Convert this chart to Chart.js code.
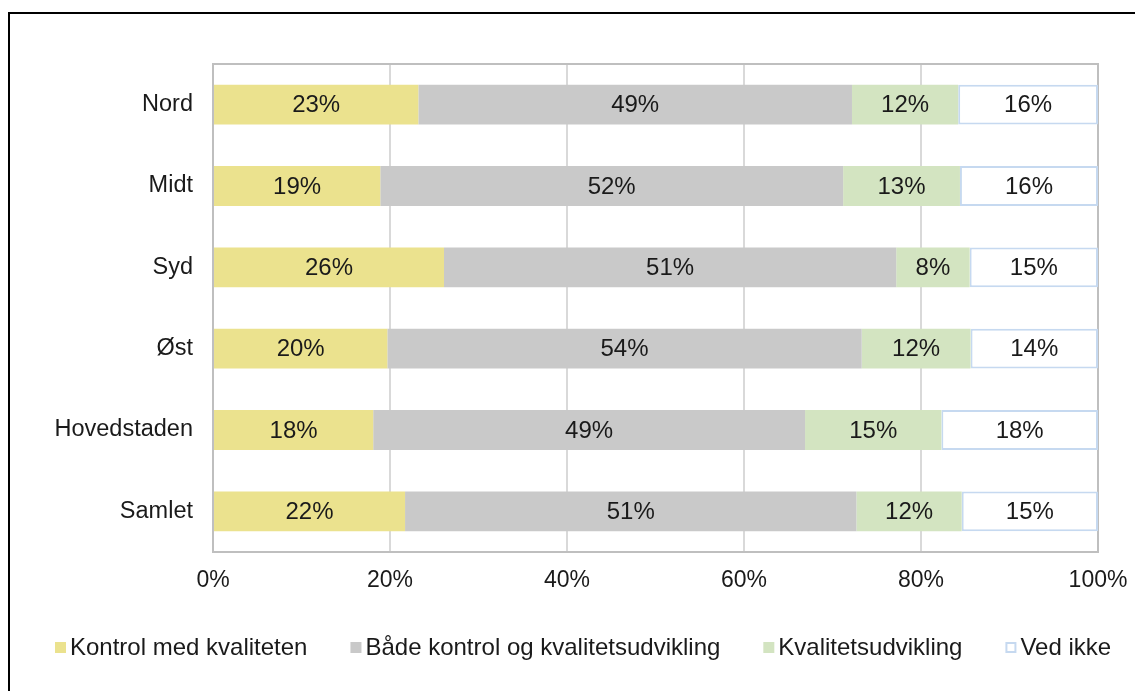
<!DOCTYPE html>
<html>
<head>
<meta charset="utf-8">
<script src="https://cdn.jsdelivr.net/npm/chart.js@4"></script>
<style>
  html, body { margin: 0; padding: 0; background: #fff; }
  #wrap { position: relative; width: 1135px; height: 691px; overflow: hidden; }
  #frame { position: absolute; left: 8px; top: 12px; width: 1200px; height: 750px; border: 2px solid #000; box-sizing: border-box; }
  canvas { position: absolute; left: 0; top: 0; }
</style>
</head>
<body>
<div id="wrap">
  <div id="frame"></div>
  <canvas id="chart" width="1135" height="691"></canvas>
</div>
<script>
const regions = ["Nord", "Midt", "Syd", "Øst", "Hovedstaden", "Samlet"];
const seriesNames = ["Kontrol med kvaliteten", "Både kontrol og kvalitetsudvikling", "Kvalitetsudvikling", "Ved ikke"];
const kontrol = [23.2, 18.9, 26.1, 19.7, 18.1, 21.7];
const begge = [49.0, 52.3, 51.1, 53.6, 48.8, 51.0];
const udvikling = [12.0, 13.2, 8.3, 12.3, 15.4, 11.9];
const vedIkke = [15.8, 15.6, 14.5, 14.4, 17.7, 15.4];
const xTicks = [0, 20, 40, 60, 80, 100];

const fills = ["#ebe28e", "#c9c9c9", "#d3e4c1", "#ffffff"];
const edges = ["#ebe28e", "#c9c9c9", "#d3e4c1", "#c6d9f0"];
const font = "'Liberation Sans', Arial, sans-serif";

/* plot frame */
const framePlugin = {
    id: "frame",
    beforeDatasetsDraw(chart) {
        const a = chart.chartArea;
        const ctx = chart.ctx;
        ctx.save();
        ctx.strokeStyle = "#bfbfbf";
        ctx.lineWidth = 2;
        ctx.strokeRect(a.left, a.top, a.right - a.left, a.bottom - a.top);
        ctx.restore();
    }
};

/* percent labels in the bars */
const labelPlugin = {
    id: "barLabels",
    afterDatasetsDraw(chart) {
        const ctx = chart.ctx;
        ctx.save();
        ctx.font = "24px " + font;
        ctx.fillStyle = "#1a1a1a";
        ctx.textAlign = "center";
        ctx.textBaseline = "middle";
        chart.data.datasets.forEach((ds, i) => {
            chart.getDatasetMeta(i).data.forEach((bar, j) => {
                const p = bar.getCenterPoint();
                ctx.fillText(Math.round(ds.data[j]) + "%", p.x, p.y + 1);
            });
        });
        ctx.restore();
    }
};

/* legend row under the axis, Excel style: small box close to the text */
const legendPlugin = {
    id: "rowLegend",
    afterDraw(chart) {
        const ctx = chart.ctx;
        const y = 647;
        let x = 55;
        ctx.save();
        ctx.font = "24px " + font;
        ctx.textBaseline = "middle";
        ctx.textAlign = "left";
        chart.data.datasets.forEach((ds, i) => {
            if (i === 3) {
                ctx.fillStyle = "#fff";
                ctx.fillRect(x, y - 5, 11, 11);
                ctx.strokeStyle = edges[i];
                ctx.lineWidth = 2;
                ctx.strokeRect(x + 1, y - 4, 9, 9);
            } else {
                ctx.fillStyle = fills[i];
                ctx.fillRect(x, y - 5, 11, 11);
            }
            ctx.fillStyle = "#1a1a1a";
            ctx.fillText(ds.label, x + 15, y + 1);
            x += 15 + ctx.measureText(ds.label).width + 43;
        });
        ctx.restore();
    }
};

const values = [kontrol, begge, udvikling, vedIkke];

new Chart(document.getElementById("chart"), {
    type: "bar",
    data: {
        labels: regions,
        datasets: seriesNames.map((name, i) => ({
            label: name,
            data: values[i],
            backgroundColor: fills[i],
            borderColor: edges[i],
            borderWidth: i === 3 ? 2 : 0,
            borderSkipped: false,
            categoryPercentage: 1,
            barPercentage: 0.49
        }))
    },
    options: {
        indexAxis: "y",
        responsive: false,
        animation: false,
        layout: { padding: { top: 64, left: 20, right: 37, bottom: 94 } },
        scales: {
            x: {
                stacked: true,
                min: 0,
                max: 100,
                afterBuildTicks: s => { s.ticks = xTicks.map(v => ({ value: v })); },
                afterFit: s => { s.height = 45; s.paddingLeft = 0; s.paddingRight = 0; },
                grid: { color: "#d9d9d9", lineWidth: 2, drawTicks: false },
                border: { display: false },
                ticks: {
                    padding: 15,
                    color: "#1a1a1a",
                    font: { family: font, size: 23 },
                    callback: v => v + "%"
                }
            },
            y: {
                stacked: true,
                afterFit: s => { s.width = 193; },
                grid: { display: false, drawTicks: false },
                border: { display: false },
                ticks: {
                    padding: 20,
                    color: "#1a1a1a",
                    font: { family: font, size: 23.5 }
                }
            }
        },
        plugins: {
            legend: { display: false },
            tooltip: { enabled: false }
        }
    },
    plugins: [framePlugin, labelPlugin, legendPlugin]
});
</script>
</body>
</html>
